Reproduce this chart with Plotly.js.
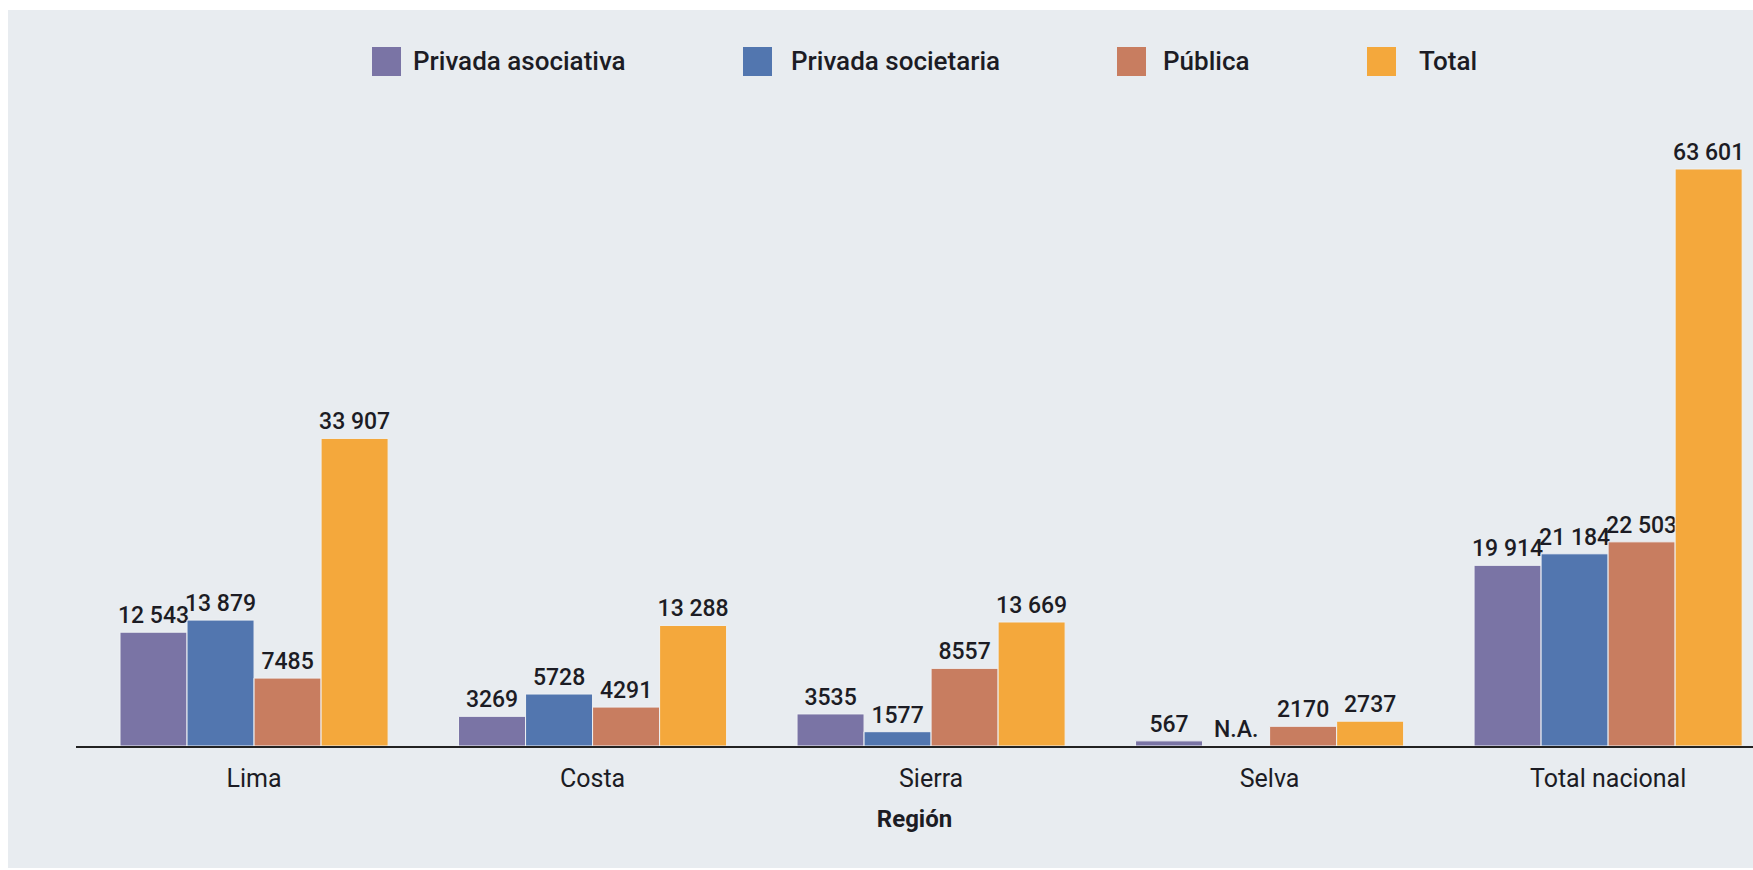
<!DOCTYPE html>
<html>
<head>
<meta charset="utf-8">
<script src="https://cdn.plot.ly/plotly-3.0.1.min.js"></script>
<style>
  html, body { margin: 0; padding: 0; background: #ffffff; }
  #chart { position: absolute; left: 8px; top: 10px; width: 1745px; height: 858px; }
</style>
</head>
<body>
<div id="chart"></div>
<script>
// ---- data ----
const categories = ["Lima", "Costa", "Sierra", "Selva", "Total nacional"];
const seriesNames = ["Privada asociativa", "Privada societaria", "Pública", "Total"];
const privadaAsociativa = [12543, 3269, 3535, 567, 19914];
const privadaSocietaria = [13879, 5728, 1577, null, 21184];   // null = N.A.
const publica = [7485, 4291, 8557, 2170, 22503];
const total = [33907, 13288, 13669, 2737, 63601];
const seriesColors = ["#7a74a5", "#5276af", "#c87d60", "#f4a83c"];
const axisTitle = "Región";
const naLabel = "N.A.";

// ---- helpers ----
function fmt(v) {
  if (v === null) return naLabel;
  const s = String(v);
  if (v < 10000) return s;
  return s.replace(/\B(?=(\d{3})+(?!\d))/g, " ");
}

const FONT = "Roboto, 'Liberation Sans', Arial, sans-serif";
const TXT = "#1c1c24";
const allSeries = [privadaAsociativa, privadaSocietaria, publica, total];

const traces = allSeries.map((vals, i) => ({
  type: "bar",
  name: seriesNames[i],
  x: categories,
  y: vals.map(v => v === null ? 0 : v),
  text: vals.map(fmt),
  textposition: "outside",
  cliponaxis: false,
  constraintext: "none",
  textfont: { family: FONT, size: 23, color: TXT, weight: 500 },
  marker: { color: seriesColors[i], line: { color: "#eef1f4", width: 1 } },
  hoverinfo: "x+y+name",
  showlegend: false
}));

// plot-area geometry (div px) for manual legend placement
const L = 68, PW = 1677, T = 110, PH = 626;
const px = x => (x - 8 - L) / PW;         // page x -> paper
const py = y => (T + PH - (y - 10)) / PH; // page y -> paper

const legendSquares = [372, 743, 1117, 1367];
const legendTexts = [411, 789, 1161, 1417];
const shapes = [], annotations = [];
seriesNames.forEach((n, i) => {
  shapes.push({
    type: "rect", xref: "paper", yref: "paper",
    x0: px(legendSquares[i]), x1: px(legendSquares[i] + 29),
    y0: py(76), y1: py(47),
    fillcolor: seriesColors[i], line: { width: 0 }
  });
  annotations.push({
    xref: "paper", yref: "paper", x: px(legendTexts[i]), y: py(61),
    xanchor: "left", yanchor: "middle", showarrow: false, text: n,
    font: { family: FONT, size: 26, color: TXT, weight: 500 }
  });
});

const layout = {
  width: 1745, height: 858,
  paper_bgcolor: "#e8ecf0",
  plot_bgcolor: "#e8ecf0",
  margin: { l: L, r: 0, t: T, b: 858 - T - PH, pad: 0 },
  barmode: "group",
  bargap: 0.208,
  bargroupgap: 0,
  showlegend: false,
  font: { family: FONT, color: TXT },
  xaxis: {
    type: "category",
    range: [-0.526, 4.428],
    showline: true, linecolor: "#222", linewidth: 2,
    ticks: "", showgrid: false, zeroline: false,
    tickfont: { family: FONT, size: 25, color: TXT },
    ticklabelstandoff: 9,
    title: { text: axisTitle, font: { family: FONT, size: 24, color: TXT, weight: "bold" }, standoff: 18 },
    automargin: false,
    fixedrange: true
  },
  yaxis: {
    range: [0, 69000],
    showgrid: false, zeroline: false, showline: false,
    showticklabels: false, ticks: "",
    fixedrange: true
  },
  shapes: shapes,
  annotations: annotations
};

Plotly.newPlot("chart", traces, layout, { displayModeBar: false, staticPlot: true });
</script>
</body>
</html>
